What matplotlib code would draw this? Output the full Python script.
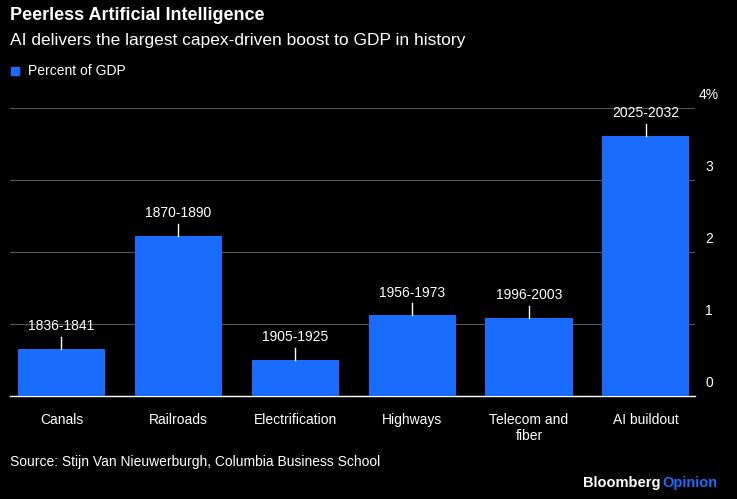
import matplotlib
matplotlib.use("Agg")
import matplotlib.pyplot as plt

categories = ["Canals", "Railroads", "Electrification", "Highways", "Telecom and\nfiber", "AI buildout"]
periods = ["1836-1841", "1870-1890", "1905-1925", "1956-1973", "1996-2003", "2025-2032"]
values = [0.65, 2.22, 0.50, 1.12, 1.08, 3.61]
yticks = [0, 1, 2, 3, 4]
yticklabels = ["0", "1", "2", "3", "4%"]

fig = plt.figure(figsize=(7.37, 4.99), dpi=100, facecolor="black")
ax = fig.add_axes([10/737, 1-396/499, 685/737, 288/499], facecolor="black")
blue = "#1a6cff"
x = range(len(categories))
ax.bar(x, values, width=0.745, color=blue, zorder=3)
for i, (v, p) in enumerate(zip(values, periods)):
    ax.plot([i, i], [v, v + 0.17], color="white", lw=1, zorder=3)
    ax.text(i, v + 0.22, p, color="white", ha="center", va="bottom", fontsize=10, family="Liberation Sans")
ax.set_xlim(-0.44, 5.42)
ax.set_ylim(0, 4)
ax.set_yticks(yticks)
ax.set_yticklabels([])
for t, l in zip(yticks, yticklabels):
    ax.text(1.0 + 14/685, t + 0.08, l, transform=ax.get_yaxis_transform(), color="white", ha="center",
            va="bottom", fontsize=10, family="Liberation Sans")
ax.yaxis.grid(True, color="#555555", lw=0.8, zorder=0)
ax.tick_params(axis="y", length=0)
ax.set_xticks(list(x))
ax.set_xticklabels(categories, color="white", fontsize=10, family="Liberation Sans", va="top")
ax.tick_params(axis="x", length=0, pad=12)
for s in ["top", "left", "right"]:
    ax.spines[s].set_visible(False)
ax.spines["bottom"].set_color("white")
ax.spines["bottom"].set_linewidth(1)

fig.text(10/737, 1-16/499, "Peerless Artificial Intelligence", color="white", fontsize=13, fontweight="bold", va="center", family="Liberation Sans")
fig.text(10/737, 1-40/499, "AI delivers the largest capex-driven boost to GDP in history", color="white", fontsize=12.5, va="center", family="Liberation Sans")
fig.patches.append(plt.Rectangle((11/737, 1-75/499), 8/737, 8/499, transform=fig.transFigure, color=blue))
fig.text(28/737, 1-71/499, "Percent of GDP", color="white", fontsize=10, va="center", family="Liberation Sans")
fig.text(10/737, 1-462/499, "Source: Stijn Van Nieuwerburgh, Columbia Business School", color="white", fontsize=10, va="center", family="Liberation Sans")
fig.text(660/737, 1-483/499, "Bloomberg", color="white", fontsize=10.5, fontweight="bold", ha="right", va="center", family="Liberation Sans")
fig.text(662/737, 1-483/499, "Opinion", color=blue, fontsize=10.5, fontweight="bold", ha="left", va="center", family="Liberation Sans")
fig.savefig("out.png", dpi=100, facecolor="black")
